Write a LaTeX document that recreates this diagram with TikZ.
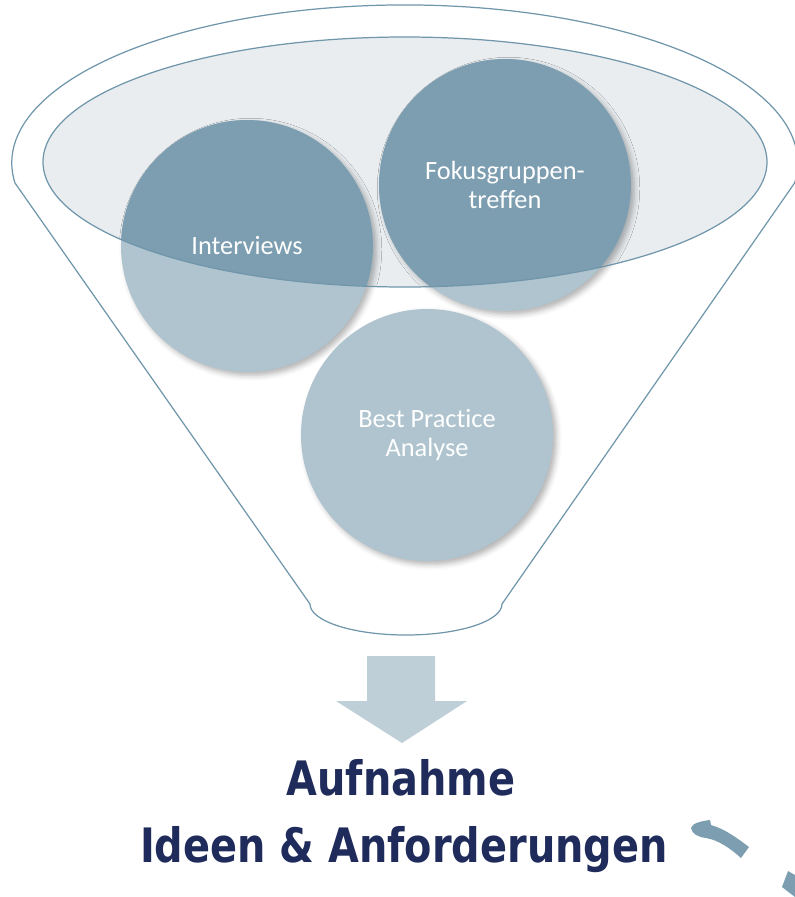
\documentclass[tikz,border=0pt]{standalone}
\usepackage{fontspec}
\setmainfont{Carlito}[Ligatures=CommonOff]
\newfontfamily\titlefont[FakeStretch=0.84]{DejaVu Sans}
\usepackage{tikz}
\usetikzlibrary{shadows.blur}
\definecolor{funnelline}{HTML}{7096AB}
\definecolor{funnelfill}{HTML}{E9EDF0}
\definecolor{bubbledark}{HTML}{7C9EB0}
\definecolor{bubblelight}{HTML}{AFC4CE}
\definecolor{arrowfill}{HTML}{BFCFD7}
\definecolor{titleblue}{HTML}{1F2B5A}
\tikzset{bubble/.style={circle, minimum size=5.04cm, inner sep=0pt, fill=bubblelight,
   blur shadow={shadow xshift=2pt, shadow yshift=-2pt, shadow blur radius=3pt, shadow opacity=30}},
 bubble text/.style={text=white, align=center, font=\fontsize{15}{16.5}\selectfont},
 funnel line/.style={draw=funnelline, line width=0.7pt},
 title/.style={text=titleblue, font=\titlefont\bfseries\fontsize{27}{30}\selectfont, anchor=base},
 }

\begin{document}
\begin{tikzpicture}[x=0.02cm, y=-0.02cm]
    \useasboundingbox (0,0) rectangle (795,897);
    \draw[funnel line] (15,183) arc[start angle=172.7, end angle=367.3, x radius=393, y radius=158]
        -- (502,604) arc[start angle=0, end angle=180, x radius=96, y radius=31] -- cycle;
    \fill[funnelfill] (405,162) ellipse[x radius=362, y radius=125];
    \node[bubble] (interviews) at (247,246) {};
    \node[bubble] (fokus) at (505,185) {};
    \node[bubble] (analyse) at (427,435) {};
    \begin{scope}
        \clip (405,162) ellipse[x radius=362, y radius=125];
        \foreach \n in {interviews, fokus, analyse}
            \fill[bubbledark] (\n.center) circle[radius=126];
    \end{scope}
    \draw[funnel line] (405,162) ellipse[x radius=362, y radius=125];
    \node[bubble text] at (interviews) {Interviews};
    \node[bubble text] at (fokus) {Fokusgruppen-\\treffen};
    \node[bubble text] at (analyse) {Best Practice\\Analyse};
    \fill[arrowfill] (367,656) -- (435,656) -- (435,701) -- (467,701) -- (402,743)
        -- (336,701) -- (367,701) -- cycle;
    \node[title] (aufnahme) at (401,795) {Aufnahme};
    \node[title] (ideen) at (404,862) {Ideen \& Anforderungen};
    \fill[bubbledark] (691,828) .. controls (692,823) and (702,821) .. (710,820) -- (711,825)
        .. controls (725,829) and (737,838) .. (749,847) -- (741,858)
        .. controls (730,848) and (718,840) .. (706,838)
        .. controls (698,837) and (692,834) .. (691,828) -- cycle;
    \fill[bubbledark] (788,871) -- (795,875) -- (795,897) -- (782,887) -- cycle;
\end{tikzpicture}
\end{document}
